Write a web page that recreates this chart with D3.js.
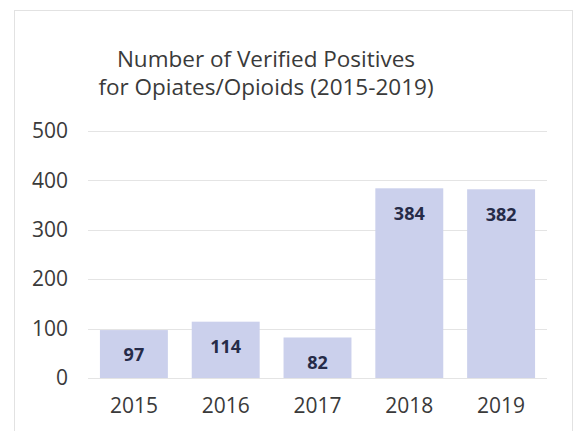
<!DOCTYPE html>
<html>
<head>
<meta charset="utf-8">
<script src="https://cdn.jsdelivr.net/npm/d3@7"></script>
<style>
  body { margin: 0; background: #fff; }
</style>
</head>
<body>
<script>
// chart data
const years = ["2015", "2016", "2017", "2018", "2019"];
const positives = [97, 114, 82, 384, 382];
const yTicks = [0, 100, 200, 300, 400, 500];
const titleLines = ["Number of Verified Positives", "for Opiates/Opioids (2015-2019)"];

const canvWidth = 579, canvHeight = 431;
const svg = d3.select("body").append("svg")
    .attr("width", canvWidth)
    .attr("height", canvHeight);

// outer chart frame
svg.append("rect")
    .attr("x", 14.5).attr("y", 10.5)
    .attr("width", 558).attr("height", 440)
    .attr("fill", "#fff")
    .attr("stroke", "#e2e2e2");

const margin = {top: 131, right: 32, bottom: 53, left: 88};
const width = canvWidth - margin.left - margin.right;
const height = canvHeight - margin.top - margin.bottom;

const g = svg.append("g")
    .attr("transform", "translate(" + margin.left + "," + margin.top + ")");

const xScale = d3.scaleBand()
    .domain(years)
    .range([0, width])
    .paddingInner(0.26)
    .paddingOuter(0.13);

const yScale = d3.scaleLinear()
    .domain([0, 500])
    .range([height, 0]);

// gridlines
g.append("g")
    .selectAll("line")
    .data(yTicks)
    .enter().append("line")
    .attr("x1", 0).attr("x2", width)
    .attr("y1", d => Math.round(yScale(d)) + 0.5)
    .attr("y2", d => Math.round(yScale(d)) + 0.5)
    .attr("stroke", "#e4e4e4");

// y axis labels
const yAxis = d3.axisLeft(yScale).tickValues(yTicks).tickSize(0).tickPadding(20);
g.append("g")
    .call(yAxis)
    .call(a => a.select(".domain").remove())
    .selectAll("text")
    .attr("font-family", "Open Sans, sans-serif")
    .attr("font-size", "21px")
    .attr("fill", "#3a3a3a");

// x axis labels
const xAxis = d3.axisBottom(xScale).tickSize(0).tickPadding(20);
g.append("g")
    .attr("transform", "translate(0," + height + ")")
    .call(xAxis)
    .call(a => a.select(".domain").remove())
    .selectAll("text")
    .attr("font-family", "Open Sans, sans-serif")
    .attr("font-size", "21px")
    .attr("fill", "#3a3a3a");

// bars
g.selectAll(".bar")
    .data(positives)
    .enter().append("rect")
    .attr("class", "bar")
    .attr("x", (d, i) => xScale(years[i]))
    .attr("y", d => yScale(d))
    .attr("width", xScale.bandwidth())
    .attr("height", d => height - yScale(d))
    .attr("fill", "#cbd0ec");

// value labels inside the top of the bars
g.selectAll(".label")
    .data(positives)
    .enter().append("text")
    .attr("class", "label")
    .attr("x", (d, i) => xScale(years[i]) + xScale.bandwidth() / 2)
    .attr("y", d => yScale(d) + 25)
    .attr("dy", "0.35em")
    .attr("text-anchor", "middle")
    .attr("font-family", "Open Sans, sans-serif")
    .attr("font-weight", "bold")
    .attr("font-size", "18px")
    .attr("fill", "#262b48")
    .text(d => d);

// title
svg.append("text")
    .attr("x", 266)
    .attr("y", 67)
    .attr("text-anchor", "middle")
    .attr("font-family", "Open Sans, sans-serif")
    .attr("font-size", "22.5px")
    .attr("fill", "#3a3a3a")
    .selectAll("tspan")
    .data(titleLines)
    .enter().append("tspan")
    .attr("x", 266)
    .attr("dy", (d, i) => i === 0 ? 0 : 28)
    .text(d => d);
</script>
</body>
</html>
